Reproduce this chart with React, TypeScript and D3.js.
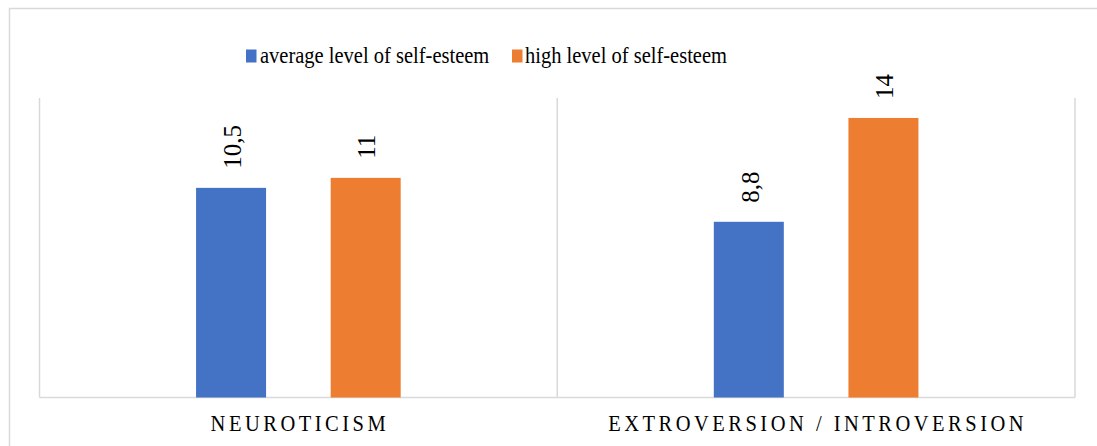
import React from "react";
import * as d3 from "d3";

const categories = ["NEUROTICISM", "EXTROVERSION / INTROVERSION"];
const seriesNames = ["average level of self-esteem", "high level of self-esteem"];
const averageValues = [10.5, 8.8];
const highValues = [11, 14];
const valueLabels = [["10,5", "8,8"], ["11", "14"]];
const colors = ["#4472C4", "#ED7D31"];

const W = 1097;
const H = 446;
const plot = { left: 39.5, right: 1075, top: 98, bottom: 397.5 };
const FONT = "Liberation Serif";

const App = () => {
  const series = [averageValues, highValues];

  const x0 = d3.scaleBand<string>().domain(categories).range([plot.left, plot.right]);
  const x1 = d3
    .scaleBand<number>()
    .domain([0, 1])
    .range([0, x0.bandwidth()])
    .paddingInner(0.48)
    .paddingOuter(1.163);
  const y = d3.scaleLinear().domain([0, 15]).range([plot.bottom, plot.top]);

  const legendItems = [
    { sq: 246, tx: 260 },
    { sq: 512, tx: 525 },
  ];

  return (
    <svg width={W} height={H} style={{ position: "absolute", left: 0, top: 0, background: "#fff" }}>
      {/* chart outer border */}
      <rect x={9.5} y={8.5} width={W + 20} height={H + 20} fill="none" stroke="#d9d9d9" strokeWidth={1.5} />

      {/* legend */}
      {seriesNames.map((name, i) => (
        <g key={name}>
          <rect x={legendItems[i].sq} y={49.5} width={10.5} height={13} fill={colors[i]} />
          <text
            transform={`translate(${legendItems[i].tx},63) scale(1,1.08)`}
            style={{ fontFamily: FONT }}
            fontSize={20.5}
            fill="#000"
          >
            {name}
          </text>
        </g>
      ))}

      {/* plot frame */}
      <g stroke="#d9d9d9" strokeWidth={1.5} fill="none">
        <line x1={plot.left} x2={plot.right} y1={plot.bottom} y2={plot.bottom} />
        {[plot.left, ...categories.map((c) => (x0(c) as number) + x0.bandwidth())].map((xv, i) => (
          <line key={i} x1={xv} x2={xv} y1={plot.top} y2={plot.bottom} />
        ))}
      </g>

      {/* bars */}
      {categories.map((c, ci) => (
        <g key={c} transform={`translate(${x0(c)},0)`}>
          {series.map((vals, si) => {
            const bx = x1(si) as number;
            const by = y(vals[ci]);
            return (
              <g key={si}>
                <rect x={bx} y={by} width={x1.bandwidth()} height={plot.bottom - by} fill={colors[si]} />
                <text
                  transform={`translate(${bx + x1.bandwidth() / 2 + 1},${by - 19}) rotate(-90)`}
                  dy="0.35em"
                  style={{ fontFamily: FONT }}
                  fontSize={25}
                  fill="#000"
                >
                  {valueLabels[si][ci]}
                </text>
              </g>
            );
          })}
        </g>
      ))}

      {/* category labels */}
      {categories.map((c) => (
        <text
          key={c}
          transform={`translate(${(x0(c) as number) + x0.bandwidth() / 2 + 1.5},431) scale(1,1.08)`}
          textAnchor="middle"
          style={{ fontFamily: FONT }}
          fontSize={20.5}
          letterSpacing={3.5}
          fill="#000"
        >
          {c}
        </text>
      ))}
    </svg>
  );
};

export default App;
